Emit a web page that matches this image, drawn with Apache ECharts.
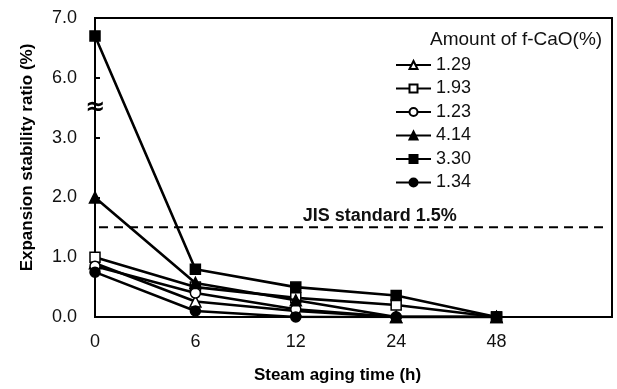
<!DOCTYPE html>
<html>
<head>
<meta charset="utf-8">
<script src="https://cdn.jsdelivr.net/npm/echarts@6/dist/echarts.min.js"></script>
<style>html,body{margin:0;padding:0;background:#fff}#c{width:617px;height:389px}</style>
</head>
<body>
<div id="c"></div>
<script>
// Data
const timeLabels = ['0', '6', '12', '24', '48'];
const seriesNames = ['1.29', '1.93', '1.23', '4.14', '3.30', '1.34'];
const s129 = [0.90, 0.26, 0.10, 0.00, 0.00];
const s193 = [1.00, 0.50, 0.32, 0.20, 0.00];
const s123 = [0.85, 0.40, 0.13, 0.00, 0.00];
const s414 = [2.00, 0.57, 0.28, 0.00, 0.00];
const s330 = [6.70, 0.80, 0.50, 0.36, 0.00];
const s134 = [0.75, 0.10, 0.00, 0.00, 0.00];
const yTickLabels = ['0.0', '1.0', '2.0', '3.0', '6.0', '7.0'];
const jisValue = 1.5;

// broken axis: values above the break are shifted down by 2 (6.0 shown at slot 4)
const BREAK_LOW = 3.5, BREAK_SHIFT = 2;
function toDisplay(v) { return v > BREAK_LOW ? v - BREAK_SHIFT : v; }

const styles = [
  { symbol: 'triangle', fill: '#fff' },
  { symbol: 'rect', fill: '#fff' },
  { symbol: 'circle', fill: '#fff' },
  { symbol: 'triangle', fill: '#000' },
  { symbol: 'rect', fill: '#000' },
  { symbol: 'circle', fill: '#000' }
];
const allData = [s129, s193, s123, s414, s330, s134];

const chart = echarts.init(document.getElementById('c'), null, { renderer: 'canvas' });
const FONT = 'Liberation Sans';

const series = allData.map((arr, i) => ({
  name: seriesNames[i],
  type: 'line',
  data: arr.map((v, j) => [j, toDisplay(v)]),
  symbol: styles[i].symbol,
  symbolSize: styles[i].symbol === 'triangle' ? 11 : 10,
  lineStyle: { color: '#000', width: 2.6 },
  itemStyle: { color: styles[i].fill, borderColor: '#000', borderWidth: 1.5 },
  z: 3 + i,
  animation: false
}));

series.push({
  name: 'JIS',
  type: 'line',
  data: [[0.04, jisValue], [5.12, jisValue]],
  symbol: 'none',
  lineStyle: { color: '#000', width: 2, type: [9, 6] },
  z: 2,
  animation: false,
  silent: true
});

chart.setOption({
  animation: false,
  backgroundColor: '#fff',
  grid: { left: 95, top: 18, right: 5, bottom: 66, show: true, borderColor: '#000', borderWidth: 2, containLabel: false },
  xAxis: {
    type: 'value', min: 0, max: 5.15, interval: 1,
    splitLine: { show: false },
    axisLine: { lineStyle: { color: '#000', width: 2 } },
    axisTick: { show: false },
    axisLabel: {
      margin: 16, color: '#111', fontFamily: FONT, fontSize: 18,
      formatter: v => (Number.isInteger(v) && timeLabels[v] !== undefined) ? timeLabels[v] : '',
      showMaxLabel: false
    },
    name: 'Steam aging time (h)', nameLocation: 'middle', nameGap: 50,
    nameTextStyle: { fontFamily: FONT, fontSize: 17, fontWeight: 'bold', color: '#000', padding: [0, 32, 0, 0] }
  },
  yAxis: {
    type: 'value', min: 0, max: 5, interval: 1,
    splitLine: { show: false },
    axisLine: { lineStyle: { color: '#000', width: 2 } },
    axisTick: { inside: true, length: 5, lineStyle: { color: '#000', width: 2 } },
    axisLabel: {
      margin: 18, color: '#111', fontFamily: FONT, fontSize: 18,
      formatter: v => yTickLabels[v] !== undefined ? yTickLabels[v] : ''
    },
    name: 'Expansion stability ratio (%)', nameLocation: 'middle', nameGap: 59, nameRotate: 90,
    nameTextStyle: { fontFamily: FONT, fontSize: 17, fontWeight: 'bold', color: '#000', padding: [0, 0, 0, 20] }
  },
  legend: {
    data: seriesNames,
    orient: 'vertical', left: 395, top: 56, padding: 0,
    itemWidth: 35, itemHeight: 10, itemGap: 5.5,
    textStyle: { fontFamily: FONT, fontSize: 18, color: '#111' },
    selectedMode: false
  },
  series: series
});

// Graphic overlays: legend title, JIS label, break symbol
const brk = chart.convertToPixel({ gridIndex: 0 }, [0, BREAK_LOW]);
const jis = chart.convertToPixel({ gridIndex: 0 }, [2.07, jisValue]);
chart.setOption({
  graphic: [
    { type: 'text', left: 430, top: 30, style: { text: 'Amount of f-CaO(%)', font: '19px "Liberation Sans"', fill: '#111' } },
    { type: 'text', x: jis[0], y: jis[1] - 2, style: { text: 'JIS standard 1.5%', font: 'bold 18px "Liberation Sans"', fill: '#111', textVerticalAlign: 'bottom' } },
    { type: 'text', x: brk[0], y: brk[1], style: { text: '≈', font: 'bold 24px "DejaVu Sans"', fill: '#000', align: 'center', verticalAlign: 'middle' }, z: 10 }
  ]
});
</script>
</body>
</html>
